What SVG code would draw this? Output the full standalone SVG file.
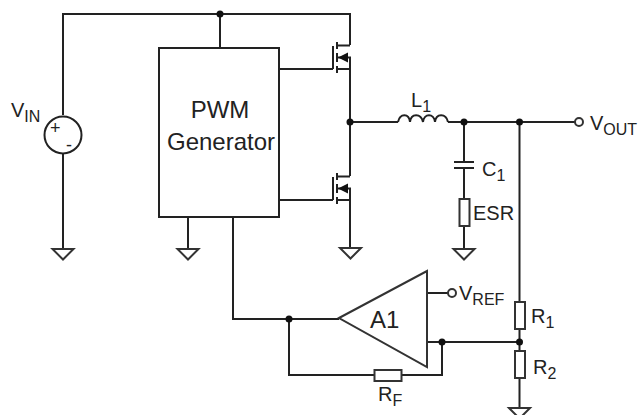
<svg xmlns="http://www.w3.org/2000/svg" width="639" height="415" viewBox="0 0 639 415">
<defs>
<style>
.w{fill:none;stroke:#222;stroke-width:2}
.b{fill:#fff;stroke:#333;stroke-width:2}
.t{font-family:"Liberation Sans",Arial,sans-serif;fill:#222;font-size:20px}
.s{font-size:16px}
.d{fill:#111}
.a{fill:#111;stroke:none}
</style>
<g id="gnd"><path class="b" d="M-10.500 0H10.500L0 10.500Z"/></g>
<g id="fet"><path class="w" d="M-17 -11.500V11.500M-13 -15.500V-8.500M-13 -4.500V4.500M-13 8.500V15.500M-13 -12H0M-13 0H0V11.500H-13"/><path class="a" d="M-12 0L-2 -5V5Z"/></g>
</defs>
<rect width="639" height="415" fill="#fff"/>
<g id="connectors">
<path class="w" d="M63 115V14H350V45"/>
<path class="w" d="M63 154V249"/>
<path class="w" d="M220 14V48"/>
<path class="w" d="M279 69H333"/>
<path class="w" d="M350 58V176"/>
<path class="w" d="M279 200H333"/>
<path class="w" d="M350 189V248"/>
<path class="w" d="M350 122H398"/>
<path class="w" d="M448 122H575"/>
<path class="w" d="M464 122V162M464 168V199M464 226V249"/>
<path class="w" d="M519.500 122V302M519.500 329V351M519.500 378V408"/>
<path class="w" d="M188 217V249"/>
<path class="w" d="M233 217V319H339"/>
<path class="w" d="M289 319V375H374M402 375H442V342"/>
<path class="w" d="M427 293H448"/>
<path class="w" d="M427 342H519.500"/>
</g>
<g id="vin"><circle cx="63" cy="135" r="18.500" fill="none" stroke="#222" stroke-width="2"/><text class="t" x="11" y="117">V<tspan class="s" dy="5">IN</tspan></text><text class="t" style="font-size:18px" x="50" y="134">+</text><text class="t" style="font-size:18px" x="66" y="151">-</text></g>
<g id="pwm"><rect class="w" x="159" y="48" width="120" height="169"/><text class="t" style="font-size:24px" x="220" y="118" text-anchor="middle">PWM</text><text class="t" style="font-size:24px" x="221" y="150" text-anchor="middle">Generator</text></g>
<g id="q1"><use href="#fet" x="350" y="57.500"/></g>
<g id="q2"><use href="#fet" x="350" y="188.500"/></g>
<g id="l1"><path class="w" d="M398 122C400 113 409 113 410 122C411 113 421 113 423 122C424 113 434 113 435 122C436 113 446 113 448 122"/><text class="t" x="411" y="107">L<tspan class="s" dy="5">1</tspan></text></g>
<g id="c1"><path class="w" d="M454 162H474M454 168H474"/><text class="t" x="482" y="176">C<tspan class="s" dy="5">1</tspan></text></g>
<g id="esr"><rect class="b" x="459.500" y="199" width="10" height="27"/><text class="t" x="473" y="220">ESR</text></g>
<g id="vout"><circle class="b" cx="579" cy="122" r="4"/><text class="t" x="590" y="130">V<tspan class="s" dy="5">OUT</tspan></text></g>
<g id="a1"><path class="b" d="M339 318L427 271V367Z"/><text class="t" x="370" y="328" style="font-size:24px">A1</text></g>
<g id="vref"><circle class="b" cx="452" cy="293" r="4"/><text class="t" x="459" y="300">V<tspan class="s" dy="5">REF</tspan></text></g>
<g id="rf"><rect class="b" x="374.500" y="370" width="27" height="11"/><text class="t" x="378" y="401">R<tspan class="s" dy="5">F</tspan></text></g>
<g id="r1"><rect class="b" x="515" y="302" width="10" height="27"/><text class="t" x="531" y="323">R<tspan class="s" dy="5">1</tspan></text></g>
<g id="r2"><rect class="b" x="515" y="351" width="10" height="27"/><text class="t" x="533" y="374">R<tspan class="s" dy="5">2</tspan></text></g>
<g id="grounds"><use href="#gnd" x="63" y="249"/><use href="#gnd" x="188" y="249"/><use href="#gnd" x="350.500" y="248"/><use href="#gnd" x="464" y="249"/><use href="#gnd" x="519.500" y="408"/></g>
<g id="junctions"><circle class="d" cx="220" cy="14" r="3.500"/><circle class="d" cx="350" cy="122" r="3.500"/><circle class="d" cx="464" cy="122" r="3.500"/><circle class="d" cx="519.500" cy="122" r="3.500"/><circle class="d" cx="289" cy="319" r="3.500"/><circle class="d" cx="442" cy="342" r="3.500"/><circle class="d" cx="519.500" cy="342" r="3.500"/></g>
</svg>
